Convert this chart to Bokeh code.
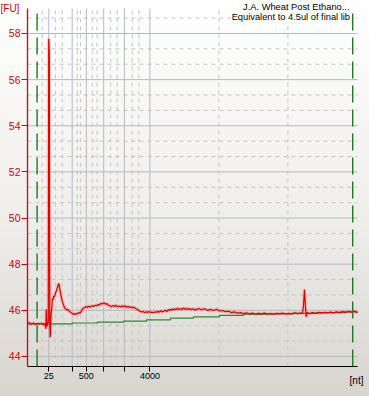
from bokeh.plotting import figure
from bokeh.models import FixedTicker, Label, Range1d, InlineStyleSheet, LinearAxis
from bokeh.embed import file_html
from bokeh.resources import INLINE

# ---- data (migration time in s, fluorescence in FU) ----
time_s = [19.00, 19.67, 20.33, 21.00, 21.67, 22.33, 23.00, 23.67, 24.33, 24.83,
          25.10, 25.27, 25.50, 25.77, 25.93, 26.07, 26.27, 26.43, 26.60, 26.83,
          27.07, 27.27, 27.50, 27.73, 28.00, 28.33, 28.67, 29.00, 29.23, 29.43,
          29.67, 29.93, 30.23, 30.57, 30.90, 31.23, 31.57, 32.00, 32.50, 33.00,
          33.50, 34.00, 34.50, 35.00, 35.50, 36.00, 36.50, 37.00, 37.50, 38.00,
          38.50, 39.00, 39.50, 40.00, 40.50, 41.00, 41.50, 42.00, 42.50, 43.00,
          43.50, 44.00, 44.50, 45.00, 45.50, 46.00, 46.50, 47.00, 47.50, 48.00,
          48.50, 49.00, 49.50, 50.00, 50.50, 51.00, 51.50, 52.00, 52.50, 53.00,
          53.50, 54.00, 54.50, 55.00, 55.50, 56.00, 56.50, 57.00, 57.50, 58.00,
          58.50, 59.00, 59.50, 60.00, 60.50, 61.00, 61.50, 62.00, 62.50, 63.00,
          63.50, 64.00, 64.50, 65.00, 65.50, 66.00, 66.50, 67.00, 67.50, 68.00,
          68.50, 69.00, 69.50, 70.00, 70.50, 71.00, 71.50, 72.00, 72.50, 73.00,
          73.50, 74.00, 75.00, 76.00, 77.00, 78.00, 79.00, 80.00, 81.00, 82.00,
          83.00, 84.00, 85.00, 86.00, 87.00, 88.00, 89.00, 90.00, 91.00, 92.00,
          93.00, 94.00, 95.00, 96.00, 97.00, 98.00, 99.00, 100.00, 101.00, 102.00,
          103.00, 104.00, 105.00, 106.00, 107.00, 108.00, 109.00, 110.00, 110.67, 111.00,
          111.33, 111.67, 111.90, 112.17, 113.00, 114.00, 115.00, 116.00, 117.00, 118.00,
          119.00, 120.00, 121.00, 122.00, 123.00, 124.00, 125.00, 126.00, 127.00, 128.00,
          129.00]
fu = [45.44, 45.46, 45.40, 45.45, 45.39, 45.43, 45.41, 45.44, 45.38, 45.42,
      45.20, 46.05, 45.30, 45.45, 45.50, 57.77, 57.15, 45.30, 44.83, 45.80,
      46.05, 46.50, 46.45, 46.62, 46.58, 46.75, 46.85, 47.00, 47.10, 47.17,
      47.02, 46.80, 46.60, 46.40, 46.28, 46.15, 46.08, 46.02, 46.04, 45.95,
      45.90, 45.86, 45.82, 45.86, 45.84, 45.90, 45.88, 45.97, 46.08, 46.12,
      46.16, 46.13, 46.18, 46.15, 46.20, 46.17, 46.22, 46.20, 46.25, 46.24,
      46.30, 46.28, 46.33, 46.27, 46.29, 46.22, 46.20, 46.16, 46.21, 46.17,
      46.22, 46.15, 46.19, 46.14, 46.20, 46.15, 46.20, 46.13, 46.18, 46.12,
      46.16, 46.10, 46.14, 46.08, 46.05, 46.00, 45.96, 45.93, 45.95, 45.90,
      45.94, 45.91, 45.95, 45.90, 45.93, 45.89, 45.94, 45.91, 45.96, 45.92,
      45.98, 45.93, 45.97, 46.00, 45.95, 46.03, 46.00, 46.06, 46.02, 46.07,
      46.03, 46.09, 46.04, 46.08, 46.03, 46.10, 46.05, 46.09, 46.04, 46.08,
      46.03, 46.07, 46.02, 46.08, 46.03, 46.07, 46.00, 46.04, 45.99, 46.05,
      45.97, 45.99, 45.94, 45.96, 45.90, 45.93, 45.88, 45.90, 45.86, 45.89,
      45.85, 45.88, 45.84, 45.87, 45.85, 45.88, 45.84, 45.86, 45.83, 45.87,
      45.85, 45.88, 45.84, 45.87, 45.85, 45.89, 45.86, 45.88, 45.87, 46.20,
      46.90, 46.10, 45.72, 45.90, 45.86, 45.90, 45.87, 45.91, 45.88, 45.91,
      45.89, 45.92, 45.89, 45.93, 45.90, 45.93, 45.91, 45.95, 45.92, 45.96,
      45.90]

baseline_t = [19.0, 34.0, 42.33, 51.0, 58.67, 66.67, 74.33, 83.0, 91.0, 99.33,
              107.67, 116.0, 123.33, 129.0]
baseline_fu = [45.41, 45.45, 45.49, 45.53, 45.59, 45.66, 45.72, 45.78, 45.82, 45.85,
               45.87, 45.90, 45.93, 45.95]

marker_t = [22.2, 127.4]          # lower / upper marker

x_major = [26.1, 33.9, 38.6, 44.4, 51.3, 59.8]
x_labels = ["25", "", "500", "", "", "4000"]
x_minor = [23.9, 28.3, 30.6, 35.6, 36.7, 40.6, 42.2, 46.7, 48.9, 53.9, 56.1, 82.8, 105.8]

y_major = [44, 46, 48, 50, 52, 54, 56, 58]
y_minor = [44.667, 45.333, 46.667, 47.333, 48.667, 49.333, 50.667, 51.333,
           52.667, 53.333, 54.667, 55.333, 56.667, 57.333, 58.667]

t_min, t_max = 19.0, 129.0        # plotted time window
fu_min, fu_max = 43.57, 59.08     # plotted FU window

title1 = "J.A. Wheat Post Ethano..."
title2 = "Equivalent to 4.5ul of final lib"

FONT = "Liberation Sans"
RED = "#d40000"
GRID = "#b2bac8"
MINOR = "#c6c6c6"

p = figure(width=369, height=396, output_backend="svg", toolbar_location=None,
           x_range=Range1d(10.0, 133.0), y_range=Range1d(42.265, 59.43),
           x_axis_type=None, y_axis_type=None, min_border=0,
           background_fill_color=None, border_fill_color=None, outline_line_color=None)
p.stylesheets = [InlineStyleSheet(css=":host { background: linear-gradient(to bottom, #ffffff 0%, #efeeeb 55%, #d8d5cf 100%); }")]

# grids (limited to the plot window)
p.segment(x0=x_minor, y0=[fu_min] * len(x_minor), x1=x_minor, y1=[fu_max] * len(x_minor),
          line_color=MINOR, line_width=1, line_dash="4 4")
p.segment(x0=[t_min] * len(y_minor), y0=y_minor, x1=[t_max] * len(y_minor), y1=y_minor,
          line_color=MINOR, line_width=1, line_dash="4 4")
p.segment(x0=x_major, y0=[fu_min] * len(x_major), x1=x_major, y1=[fu_max] * len(x_major),
          line_color=GRID, line_width=1)
p.segment(x0=[t_min] * len(y_major), y0=y_major, x1=[t_max] * len(y_major), y1=y_major,
          line_color=GRID, line_width=1)

# markers
p.segment(x0=marker_t, y0=[fu_min] * 2, x1=marker_t, y1=[fu_max] * 2,
          line_color="#1f7a1f", line_width=1.4, line_dash="17 7")

# baseline
p.step(baseline_t, baseline_fu, mode="after", line_color="#2a8a2a", line_width=1.2)

# trace with halo
p.line(time_s, fu, line_color="#ff6060", line_width=3.5, line_alpha=0.3)
p.line(time_s, fu, line_color="#e00000", line_width=1.2)

# axes at fixed positions
xa = LinearAxis(fixed_location=fu_min, bounds=(t_min, t_max),
                ticker=FixedTicker(ticks=x_major))
xa.major_label_overrides = dict(zip(x_major, x_labels))
xa.axis_line_color = "black"
xa.major_tick_line_color = "black"
xa.major_tick_out = 5
xa.major_tick_in = 0
xa.minor_tick_line_color = None
xa.major_label_standoff = 2
xa.major_label_text_font = FONT
xa.major_label_text_font_size = "9px"
xa.major_label_text_color = "black"
p.add_layout(xa, "below")

ya = LinearAxis(fixed_location=t_min, bounds=(fu_min, fu_max),
                ticker=FixedTicker(ticks=y_major))
ya.axis_line_color = RED
ya.axis_line_width = 1.3
ya.major_tick_line_color = RED
ya.major_tick_out = 6
ya.major_tick_in = 0
ya.minor_tick_line_color = None
ya.major_label_standoff = 1
ya.major_label_text_font = FONT
ya.major_label_text_font_size = "10.5px"
ya.major_label_text_color = RED
p.add_layout(ya, "left")

# texts
p.add_layout(Label(x=0, y=388, x_units="screen", y_units="screen", text="[FU]",
                   text_font=FONT, text_font_size="10px", text_color=RED,
                   text_align="left", text_baseline="middle"))
p.add_layout(Label(x=356, y=16, x_units="screen", y_units="screen", text="[nt]",
                   text_font=FONT, text_font_size="10px", text_color="black",
                   text_align="center", text_baseline="middle"))
p.add_layout(Label(x=349, y=390, x_units="screen", y_units="screen", text=title1,
                   text_font=FONT, text_font_size="9.3px", text_color="black",
                   text_align="right", text_baseline="middle"))
p.add_layout(Label(x=350.5, y=380, x_units="screen", y_units="screen", text=title2,
                   text_font=FONT, text_font_size="9.3px", text_color="black",
                   text_align="right", text_baseline="middle",
                   background_fill_color="white", padding=1))

open("out.html", "w").write(file_html(p, INLINE))
